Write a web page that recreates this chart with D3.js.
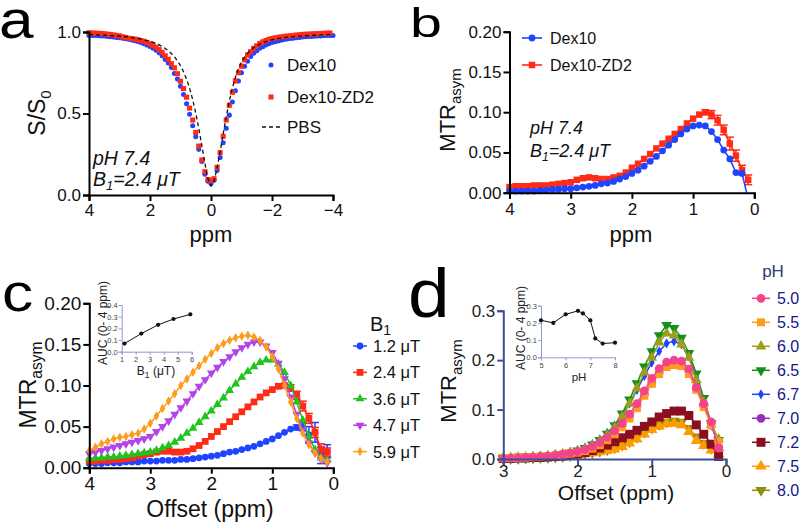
<!DOCTYPE html>
<html><head><meta charset="utf-8">
<script src="https://cdn.jsdelivr.net/npm/d3@7"></script>
<style>body{margin:0;background:#fff}svg{display:block}</style>
</head><body><svg id="fig" width="800" height="523"></svg>
<script>
const FONT = '"Liberation Sans", Arial, Helvetica, sans-serif';

// ---------------- DATA ----------------
// Panel a: Z-spectra, offsets 4.0 -> -4.0 ppm
const ppmA = d3.range(40, -41, -1).map(i => i / 10);
const dex10A = [0.979,0.978,0.978,0.977,0.976,0.975,0.973,0.971,0.969,0.967,0.965,0.962,0.959,0.955,0.951,0.947,0.942,0.935,0.928,0.920,
  0.911,0.901,0.888,0.872,0.854,0.832,0.810,0.782,0.746,0.711,0.667,0.616,0.560,0.495,0.425,0.357,0.280,0.205,0.127,0.085,
  0.070,
  0.090,0.150,0.230,0.320,0.410,0.490,0.570,0.640,0.700,0.750,0.790,0.820,0.850,0.870,0.885,0.900,0.910,0.920,0.928,0.935,
  0.940,0.945,0.950,0.954,0.957,0.960,0.962,0.965,0.967,0.969,0.971,0.972,0.973,0.974,0.975,0.976,0.977,0.978,0.978,0.979];
const zd2A = [0.995,0.994,0.993,0.992,0.991,0.989,0.987,0.985,0.982,0.979,0.976,0.971,0.966,0.962,0.959,0.957,0.953,0.948,0.943,0.936,
  0.928,0.918,0.906,0.892,0.875,0.854,0.833,0.806,0.780,0.744,0.698,0.653,0.600,0.533,0.460,0.384,0.300,0.215,0.143,0.095,
  0.090,
  0.100,0.170,0.260,0.360,0.460,0.550,0.630,0.700,0.750,0.790,0.830,0.860,0.880,0.900,0.915,0.930,0.940,0.948,0.955,0.960,
  0.964,0.967,0.970,0.973,0.975,0.977,0.979,0.981,0.983,0.985,0.986,0.987,0.988,0.989,0.990,0.991,0.992,0.993,0.994];
const pbsA = [0.985,0.984,0.983,0.982,0.981,0.980,0.979,0.978,0.977,0.976,0.975,0.973,0.971,0.969,0.966,0.963,0.960,0.956,0.952,0.947,
  0.942,0.936,0.929,0.921,0.911,0.899,0.885,0.868,0.848,0.823,0.793,0.756,0.710,0.654,0.585,0.503,0.408,0.303,0.195,0.100,
  0.055,
  0.085,0.165,0.265,0.375,0.480,0.575,0.655,0.722,0.775,0.815,0.846,0.870,0.889,0.904,0.916,0.926,0.934,0.941,0.947,0.952,
  0.956,0.960,0.963,0.966,0.968,0.970,0.972,0.974,0.975,0.976,0.977,0.978,0.979,0.980,0.981,0.982,0.983,0.984,0.985,0.985];

// Panel b: MTRasym, offsets 4.0 -> 0.1 ppm
const ppmB = d3.range(40, 0, -1).map(i => i / 10);
const dex10B = [0.002,0.002,0.002,0.002,0.002,0.003,0.003,0.004,0.004,0.005,0.005,0.006,0.007,0.008,0.009,0.011,0.012,0.014,0.017,0.020,
  0.024,0.028,0.033,0.039,0.045,0.052,0.059,0.066,0.073,0.079,0.083,0.084,0.083,0.076,0.066,0.053,0.042,0.025,0.024,-0.008];
const zd2B = [0.007,0.008,0.008,0.008,0.009,0.009,0.009,0.010,0.011,0.012,0.013,0.016,0.018,0.019,0.018,0.017,0.017,0.019,0.021,0.025,
  0.031,0.036,0.042,0.048,0.055,0.061,0.067,0.073,0.079,0.086,0.092,0.097,0.100,0.097,0.090,0.078,0.061,0.046,0.028,0.016];
const zd2BErr = [0,0,0,0,0,0,0,0,0,0,0,0,0,0,0,0,0,0,0,0,0,0,0,0,0,0,0,0,0,0,0,0,0.003,0.005,0.006,0.006,0.008,0.007,0.006,0.006];

// Panel c: MTRasym vs B1, offsets 4.0 -> 0.1 ppm
const ppmC = ppmB;
const b1Labels = ["1.2 μT", "2.4 μT", "3.6 μT", "4.7 μT", "5.9 μT"];
const b1_12 = [0.005,0.005,0.005,0.006,0.006,0.006,0.007,0.007,0.007,0.008,0.008,0.008,0.009,0.009,0.009,0.010,0.010,0.011,0.012,0.013,
  0.014,0.015,0.017,0.019,0.020,0.022,0.024,0.026,0.029,0.032,0.035,0.039,0.043,0.047,0.049,0.050,0.040,0.043,0.015,0.020];
const b1_24 = [0.008,0.008,0.009,0.009,0.010,0.010,0.011,0.012,0.014,0.016,0.017,0.019,0.020,0.020,0.019,0.019,0.020,0.023,0.027,0.032,
  0.038,0.044,0.050,0.056,0.062,0.068,0.074,0.080,0.086,0.091,0.095,0.099,0.100,0.097,0.088,0.075,0.060,0.043,0.022,0.019];
const b1_36 = [0.011,0.012,0.012,0.013,0.013,0.014,0.015,0.016,0.017,0.018,0.019,0.021,0.024,0.027,0.031,0.036,0.042,0.048,0.055,0.062,
  0.069,0.077,0.085,0.094,0.102,0.110,0.117,0.123,0.128,0.131,0.131,0.126,0.116,0.100,0.080,0.058,0.038,0.022,0.012,0.009];
const b1_47 = [0.017,0.019,0.021,0.023,0.025,0.027,0.029,0.031,0.033,0.035,0.038,0.044,0.050,0.057,0.065,0.073,0.081,0.090,0.099,0.107,
  0.115,0.122,0.129,0.135,0.141,0.146,0.150,0.153,0.153,0.148,0.140,0.127,0.108,0.086,0.065,0.046,0.030,0.018,0.010,0.006];
const b1_59 = [0.021,0.025,0.029,0.032,0.035,0.037,0.038,0.040,0.042,0.047,0.054,0.063,0.072,0.081,0.090,0.100,0.108,0.116,0.124,0.132,
  0.139,0.146,0.151,0.155,0.158,0.160,0.161,0.159,0.155,0.147,0.135,0.120,0.100,0.080,0.060,0.042,0.028,0.018,0.011,0.007];
const b1_12Err = [0,0,0,0,0,0,0,0,0,0,0,0,0,0,0,0,0,0,0,0,0,0,0,0,0,0,0,0,0,0,0,0,0,0,0.003,0.005,0.010,0.012,0.010,0.008];
const b1_24Err = [0,0,0,0,0,0,0,0,0,0,0,0,0,0,0,0,0,0,0,0,0,0,0,0,0,0,0,0,0,0,0,0,0,0.004,0.005,0.006,0.006,0.006,0.007,0.005];
// inset c
const aucB1 = [1.2, 2.4, 3.6, 4.7, 5.9];
const aucB1Val = [0.07, 0.155, 0.23, 0.28, 0.32];

// Panel d: MTRasym vs pH, offsets 3.0 -> 0.1 ppm
const ppmD = d3.range(30, 0, -1).map(i => i / 10);
const pHLabels = ["5.0", "5.5", "6.0", "6.5", "6.7", "7.0", "7.2", "7.5", "8.0"];
const pH50 = [0.001,0.002,0.002,0.003,0.004,0.005,0.006,0.008,0.010,0.012,0.015,0.019,0.025,0.033,0.044,0.057,0.072,0.091,0.112,0.138,
  0.163,0.183,0.196,0.200,0.198,0.182,0.145,0.112,0.075,0.022];
const pH55 = [0.002,0.002,0.003,0.003,0.004,0.005,0.006,0.007,0.009,0.011,0.013,0.016,0.021,0.028,0.038,0.050,0.064,0.082,0.103,0.128,
  0.152,0.172,0.186,0.190,0.188,0.172,0.140,0.105,0.068,0.035];
const pH60 = [0.002,0.002,0.003,0.003,0.004,0.005,0.006,0.008,0.010,0.012,0.016,0.021,0.027,0.036,0.048,0.064,0.085,0.112,0.143,0.175,
  0.205,0.236,0.254,0.250,0.232,0.205,0.160,0.115,0.070,0.040];
const pH65 = [0.002,0.002,0.003,0.003,0.004,0.005,0.006,0.008,0.010,0.013,0.017,0.022,0.029,0.038,0.051,0.068,0.092,0.120,0.153,0.187,
  0.218,0.250,0.271,0.265,0.245,0.214,0.173,0.123,0.072,0.038];
const pH67 = [0.002,0.002,0.003,0.004,0.005,0.006,0.007,0.009,0.011,0.014,0.018,0.023,0.030,0.040,0.053,0.068,0.088,0.112,0.140,0.168,
  0.195,0.218,0.234,0.238,0.232,0.208,0.165,0.118,0.068,0.030];
const pH70 = [0.001,0.002,0.002,0.003,0.004,0.005,0.006,0.007,0.009,0.011,0.014,0.018,0.024,0.031,0.041,0.053,0.068,0.086,0.107,0.131,
  0.155,0.175,0.189,0.194,0.192,0.177,0.142,0.108,0.072,0.024];
const pH72 = [0.001,0.001,0.002,0.002,0.003,0.003,0.004,0.005,0.006,0.008,0.010,0.013,0.017,0.022,0.028,0.035,0.043,0.050,0.058,0.066,
  0.075,0.085,0.092,0.097,0.097,0.088,0.069,0.050,0.030,0.005];
const pH75 = [0.000,0.001,0.001,0.001,0.002,0.002,0.003,0.004,0.005,0.006,0.008,0.010,0.012,0.014,0.017,0.020,0.025,0.032,0.040,0.050,
  0.059,0.066,0.071,0.072,0.069,0.055,0.037,0.027,0.018,0.010];
const pH80 = [0.000,0.001,0.001,0.002,0.002,0.003,0.003,0.004,0.005,0.007,0.009,0.011,0.013,0.016,0.019,0.023,0.028,0.035,0.044,0.054,
  0.063,0.070,0.075,0.077,0.075,0.062,0.045,0.032,0.022,0.012];
// inset d
const aucPH = [5.0, 5.5, 6.0, 6.5, 6.7, 7.0, 7.2, 7.5, 8.0];
const aucPHVal = [0.215, 0.20, 0.25, 0.27, 0.255, 0.215, 0.11, 0.08, 0.085];

// ---------------- HELPERS ----------------
const svg = d3.select("#fig");
const BLUE = "#1f44ff", RED = "#ff2a17";

function axes(x, y, xt, yt, xf, yf, o) {
  const col = o.color || "#000", fs = o.fs || 17, tc = o.tc || "#111", sw = o.sw || 2, ts = o.ts || 6;
  const gx = svg.append("g").attr("transform", `translate(0,${y.range()[0]})`)
    .call(d3.axisBottom(x).tickValues(xt).tickFormat(xf).tickSizeOuter(0).tickSize(ts).tickPadding(o.xpad != null ? o.xpad : 3));
  const gy = svg.append("g").attr("transform", `translate(${x.range()[0]},0)`)
    .call(d3.axisLeft(y).tickValues(yt).tickFormat(yf).tickSizeOuter(0).tickSize(ts).tickPadding(o.ypad != null ? o.ypad : 2));
  [gx, gy].forEach(a => {
    a.select(".domain").attr("stroke", col).attr("stroke-width", sw);
    a.selectAll(".tick line").attr("stroke", col).attr("stroke-width", sw);
    a.selectAll("text").attr("font-size", fs).attr("font-family", FONT).attr("fill", tc);
  });
  svg.append("line").attr("x1", x.range()[0] - sw / 2).attr("x2", x.range()[0] + sw / 2)
    .attr("y1", y.range()[0]).attr("y2", y.range()[0]).attr("stroke", col).attr("stroke-width", sw);
}
function sym(type, size) { return d3.symbol().type(type).size(size)(); }
function markers(g, xs, ys, x, y, type, size, color, rot) {
  g.selectAll(null).data(xs.map((v, i) => [v, ys[i]]).filter(d => d[1] >= 0)).join("path")
    .attr("d", sym(type, size))
    .attr("transform", d => `translate(${x(d[0])},${y(d[1])})${rot ? " rotate(180)" : ""}`)
    .attr("fill", color);
}
function line(g, xs, ys, x, y, color, w, clip) {
  g.append("path").datum(xs.map((v, i) => [v, ys[i]]))
    .attr("d", d3.line().x(d => x(d[0])).y(d => y(d[1])))
    .attr("fill", "none").attr("stroke", color).attr("stroke-width", w || 1.5)
    .attr("clip-path", clip ? `url(#${clip})` : null);
}
function errs(g, xs, ys, es, x, y, color) {
  xs.forEach((v, i) => {
    const e = es[i]; if (!e) return;
    const cx = x(v), y1 = y(ys[i] - e), y2 = y(ys[i] + e);
    g.append("line").attr("x1", cx).attr("x2", cx).attr("y1", y1).attr("y2", y2).attr("stroke", color).attr("stroke-width", 1.5);
    [y1, y2].forEach(yy => g.append("line").attr("x1", cx - 4).attr("x2", cx + 4).attr("y1", yy).attr("y2", yy).attr("stroke", color).attr("stroke-width", 1.5));
  });
}
function text(x, y, s, fs, o = {}) {
  return svg.append("text").attr("x", x).attr("y", y).attr("font-size", fs).attr("font-family", FONT)
    .attr("fill", o.fill || "#111").attr("text-anchor", o.anchor || "start")
    .attr("font-style", o.italic ? "italic" : null).text(s);
}
function rotLabel(cx, cy, main, sub, fs) {
  const t = svg.append("text").attr("transform", `translate(${cx},${cy}) rotate(-90)`)
    .attr("text-anchor", "middle").attr("font-size", fs).attr("font-family", FONT).attr("fill", "#111");
  t.append("tspan").text(main);
  if (sub) t.append("tspan").attr("font-size", fs * 0.68).attr("dy", fs * 0.28).text(sub);
  return t;
}
function panelLabel(x, y, s, fs, sx) {
  svg.append("text").attr("transform", `translate(${x},${y}) scale(${sx},1)`).attr("font-size", fs)
    .attr("font-family", FONT).attr("fill", "#000").text(s);
}
const defs = svg.append("defs");
function clip(id, x0, y0, x1, y1) {
  defs.append("clipPath").attr("id", id).append("rect").attr("x", x0).attr("y", y0).attr("width", x1 - x0).attr("height", y1 - y0);
}

// ---------------- PANEL LABELS ----------------
panelLabel(-1, 38, "a", 54, 1.15);
panelLabel(410, 37, "b", 41, 1.4);
panelLabel(2, 311, "c", 52, 1.2);
panelLabel(408, 317, "d", 68, 1.1);

// ---------------- PANEL A ----------------
{
  const x = d3.scaleLinear().domain([4, -4]).range([89, 333]);
  const y = d3.scaleLinear().domain([0, 1]).range([195, 32]);
  const g = svg.append("g");
  markers(g, ppmA, dex10A, x, y, d3.symbolCircle, 20, BLUE);
  markers(g, ppmA.slice(0, zd2A.length), zd2A, x, y, d3.symbolSquare, 26, RED);
  g.append("path").datum(ppmA.map((v, i) => [v, pbsA[i]]))
    .attr("d", d3.line().x(d => x(d[0])).y(d => y(d[1])))
    .attr("fill", "none").attr("stroke", "#111").attr("stroke-width", 1.3).attr("stroke-dasharray", "4,3");
  axes(x, y, [4, 2, 0, -2, -4], [0, 0.5, 1], d3.format("d"), d3.format(".1f"), { fs: 17 });
  text(211, 242, "ppm", 22, { anchor: "middle" });
  const t = svg.append("text").attr("transform", "translate(45,113) rotate(-90)").attr("text-anchor", "middle")
    .attr("font-size", 23).attr("font-family", FONT).attr("fill", "#111");
  t.append("tspan").text("S/S");
  t.append("tspan").attr("font-size", 15).attr("dy", 6).text("0");
  // legend
  svg.append("path").attr("d", sym(d3.symbolCircle, 20)).attr("transform", "translate(271,65)").attr("fill", BLUE);
  text(287, 71, "Dex10", 17);
  svg.append("path").attr("d", sym(d3.symbolSquare, 26)).attr("transform", "translate(271,97)").attr("fill", RED);
  text(287, 103, "Dex10-ZD2", 17);
  svg.append("line").attr("x1", 262).attr("x2", 280).attr("y1", 127).attr("y2", 127).attr("stroke", "#111").attr("stroke-width", 1.3).attr("stroke-dasharray", "4,3");
  text(287, 133, "PBS", 17);
  // annotation
  text(93, 165, "pH 7.4", 19.5, { italic: true });
  const b = text(93, 186, "B", 19.5, { italic: true });
  b.append("tspan").attr("font-size", 13).attr("dy", 4).text("1");
  b.append("tspan").attr("dy", -4).text("=2.4 μT");
}

// ---------------- PANEL B ----------------
{
  const x = d3.scaleLinear().domain([4, 0]).range([509.5, 754.3]);
  const y = d3.scaleLinear().domain([0, 0.2]).range([192.7, 31.7]);
  clip("clipB", 500, 20, 760, 192.7);
  const g = svg.append("g");
  errs(g, ppmB, zd2B, zd2BErr, x, y, RED);
  line(g, ppmB, zd2B, x, y, RED, 1.6, "clipB");
  markers(g, ppmB, zd2B, x, y, d3.symbolSquare, 42, RED);
  line(g, ppmB, dex10B, x, y, BLUE, 1.6, "clipB");
  markers(g, ppmB, dex10B, x, y, d3.symbolCircle, 36, BLUE);
  axes(x, y, [4, 3, 2, 1, 0], [0, 0.05, 0.1, 0.15, 0.2], d3.format("d"), d3.format(".2f"), { fs: 17, xpad: 4 });
  text(631, 242, "ppm", 22, { anchor: "middle" });
  rotLabel(455, 110, "MTR", "asym", 22);
  // legend
  svg.append("line").attr("x1", 522).attr("x2", 542).attr("y1", 38).attr("y2", 38).attr("stroke", BLUE).attr("stroke-width", 1.6);
  svg.append("path").attr("d", sym(d3.symbolCircle, 36)).attr("transform", "translate(532,38)").attr("fill", BLUE);
  text(550, 44, "Dex10", 16);
  svg.append("line").attr("x1", 522).attr("x2", 542).attr("y1", 65).attr("y2", 65).attr("stroke", RED).attr("stroke-width", 1.6);
  svg.append("path").attr("d", sym(d3.symbolSquare, 42)).attr("transform", "translate(532,65)").attr("fill", RED);
  text(550, 71, "Dex10-ZD2", 16);
  text(530, 134, "pH 7.4", 18, { italic: true });
  const b = text(530, 157, "B", 18, { italic: true });
  b.append("tspan").attr("font-size", 12).attr("dy", 4).text("1");
  b.append("tspan").attr("dy", -4).text("=2.4 μT");
}

// ---------------- PANEL C ----------------
{
  const x = d3.scaleLinear().domain([4, 0]).range([89.3, 333.3]);
  const y = d3.scaleLinear().domain([0, 0.2]).range([467.7, 303.3]);
  const g = svg.append("g");
  const series = [
    { v: b1_12, c: "#1f44ff", t: d3.symbolCircle, s: 36, e: b1_12Err },
    { v: b1_24, c: "#ff2a17", t: d3.symbolSquare, s: 46, e: b1_24Err },
    { v: b1_36, c: "#1fc41f", t: d3.symbolTriangle, s: 34 },
    { v: b1_47, c: "#b444ea", t: d3.symbolTriangle, s: 34, r: true },
    { v: b1_59, c: "#ff9a1a", t: d3.symbolDiamond, s: 26 },
  ];
  series.forEach(s => {
    if (s.e) errs(g, ppmC, s.v, s.e, x, y, s.c);
    line(g, ppmC, s.v, x, y, s.c, 1.5);
    markers(g, ppmC, s.v, x, y, s.t, s.s, s.c, s.r);
  });
  axes(x, y, [4, 3, 2, 1, 0], [0, 0.05, 0.1, 0.15, 0.2], d3.format("d"), d3.format(".2f"), { fs: 19 });
  text(210, 517, "Offset (ppm)", 23, { anchor: "middle" });
  rotLabel(36, 385, "MTR", "asym", 23);
  // legend
  const tt = text(370, 331, "B", 20);
  tt.append("tspan").attr("font-size", 14).attr("dy", 4).text("1");
  series.forEach((s, i) => {
    const yy = 346 + i * 26.4;
    svg.append("line").attr("x1", 353).attr("x2", 367).attr("y1", yy).attr("y2", yy).attr("stroke", s.c).attr("stroke-width", 1.5);
    svg.append("path").attr("d", sym(s.t, s.s)).attr("transform", `translate(360,${yy})${s.r ? " rotate(180)" : ""}`).attr("fill", s.c);
    text(373, yy + 6, b1Labels[i], 16.5);
  });
  // inset
  const xi = d3.scaleLinear().domain([1, 6]).range([121.7, 191.7]);
  const yi = d3.scaleLinear().domain([0, 0.4]).range([351.7, 305]);
  axes(xi, yi, [1, 2, 3, 4, 5, 6], [0, 0.1, 0.2, 0.3, 0.4], d3.format("d"), d3.format(".1f"),
    { color: "#8d9ad4", fs: 7.5, tc: "#444", sw: 1, ts: 3, xpad: 2, ypad: 1 });
  const gi = svg.append("g");
  line(gi, aucB1, aucB1Val, xi, yi, "#111", 1);
  markers(gi, aucB1, aucB1Val, xi, yi, d3.symbolCircle, 14, "#111");
  svg.append("text").attr("transform", "translate(107,323) rotate(-90)").attr("text-anchor", "middle")
    .attr("font-size", 12).attr("font-family", FONT).attr("fill", "#222").text("AUC (0- 4 ppm)");
  const bl = text(156, 375, "B", 12, { fill: "#222", anchor: "middle" });
  bl.append("tspan").attr("font-size", 8.5).attr("dy", 3).text("1");
  bl.append("tspan").attr("dy", -3).text(" (μT)");
}

// ---------------- PANEL D ----------------
{
  const x = d3.scaleLinear().domain([3, 0]).range([503.3, 726]);
  const y = d3.scaleLinear().domain([0, 0.3]).range([459, 310.7]);
  const g = svg.append("g");
  const series = [
    { v: pH50, c: "#f5428c", t: d3.symbolCircle, s: 60 },
    { v: pH55, c: "#ff9c1f", t: d3.symbolSquare, s: 64 },
    { v: pH60, c: "#9e9e1a", t: d3.symbolTriangle, s: 50 },
    { v: pH65, c: "#13901a", t: d3.symbolTriangle, s: 50, r: true },
    { v: pH67, c: "#1f44ff", t: d3.symbolDiamond, s: 30 },
    { v: pH70, c: "#9431b8", t: d3.symbolCircle, s: 60 },
    { v: pH72, c: "#8b0f1e", t: d3.symbolSquare, s: 80 },
    { v: pH75, c: "#ff9a00", t: d3.symbolTriangle, s: 56 },
    { v: pH80, c: "#8d8d12", t: d3.symbolTriangle, s: 56, r: true },
  ];
  series.slice().reverse().forEach(s => {
    line(g, ppmD, s.v, x, y, s.c, 1.5);
    markers(g, ppmD, s.v, x, y, s.t, s.s, s.c, s.r);
  });
  axes(x, y, [3, 2, 1, 0], [0, 0.1, 0.2, 0.3], d3.format("d"), d3.format(".1f"), { fs: 17, color: "#3d4c9c", tc: "#222", xpad: 0 });
  text(616, 500, "Offset (ppm)", 21, { anchor: "middle" });
  rotLabel(456, 381, "MTR", "asym", 22);
  // legend
  text(773, 277, "pH", 17, { anchor: "middle", fill: "#333a6e" });
  series.forEach((s, i) => {
    const yy = 298.3 + i * 24;
    svg.append("line").attr("x1", 752).attr("x2", 770).attr("y1", yy).attr("y2", yy).attr("stroke", s.c).attr("stroke-width", 1.5);
    svg.append("path").attr("d", sym(s.t, s.s)).attr("transform", `translate(761,${yy})${s.r ? " rotate(180)" : ""}`).attr("fill", s.c);
    text(777, yy + 6, pHLabels[i], 16, { fill: "#14188a" });
  });
  // inset
  const xi = d3.scaleLinear().domain([5, 8]).range([541, 615]);
  const yi = d3.scaleLinear().domain([0, 0.3]).range([357.3, 305.7]);
  axes(xi, yi, [5, 6, 7, 8], [0, 0.1, 0.2, 0.3], d3.format("d"), d3.format(".1f"),
    { color: "#8d9ad4", fs: 7.5, tc: "#444", sw: 1, ts: 3, xpad: 2, ypad: 1 });
  const gi = svg.append("g");
  line(gi, aucPH, aucPHVal, xi, yi, "#111", 1);
  markers(gi, aucPH, aucPHVal, xi, yi, d3.symbolCircle, 14, "#111");
  svg.append("text").attr("transform", "translate(525,328) rotate(-90)").attr("text-anchor", "middle")
    .attr("font-size", 12).attr("font-family", FONT).attr("fill", "#222").text("AUC (0- 4 ppm)");
  text(579, 381, "pH", 11.5, { anchor: "middle", fill: "#222" });
}
</script></body></html>
